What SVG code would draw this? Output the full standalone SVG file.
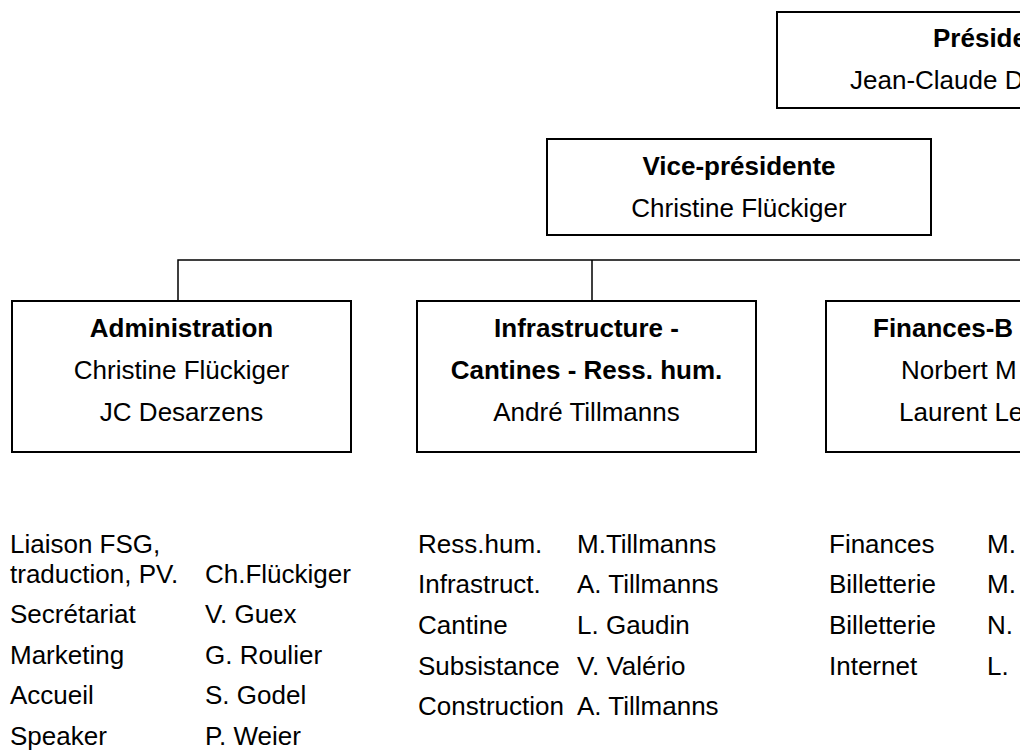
<svg xmlns="http://www.w3.org/2000/svg" width="1020" height="751" viewBox="0 0 1020 751">
<style>
text{font-family:"Liberation Sans",Arial,sans-serif;font-size:26px;fill:#000}
.b{font-weight:bold}
.c{text-anchor:middle}
.box{fill:#fff;stroke:#000;stroke-width:2}
.ln{fill:none;stroke:#000;stroke-width:1.5}
</style>
<rect width="1020" height="751" fill="#fff"/>
<g id="connectors">
<path class="ln" d="M178,301 V260 H1030 M592,260 V301"/>
</g>
<g id="president">
<rect class="box" x="777" y="12" width="430" height="96"/>
<text class="b" x="933" y="47">Préside</text>
<text x="850" y="89">Jean-Claude D</text>
</g>
<g id="vice-presidente">
<rect class="box" x="547" y="139" width="384" height="96"/>
<text class="b c" x="739" y="175">Vice-présidente</text>
<text class="c" x="739" y="217">Christine Flückiger</text>
</g>
<g id="administration">
<rect class="box" x="12" y="301" width="339" height="151"/>
<text class="b c" x="181.5" y="337">Administration</text>
<text class="c" x="181.5" y="379">Christine Flückiger</text>
<text class="c" x="181.5" y="421">JC Desarzens</text>
</g>
<g id="infrastructure">
<rect class="box" x="417" y="301" width="339" height="151"/>
<text class="b c" x="586.5" y="337">Infrastructure -</text>
<text class="b c" x="586.5" y="379">Cantines - Ress. hum.</text>
<text class="c" x="586.5" y="421">André Tillmanns</text>
</g>
<g id="finances">
<rect class="box" x="826" y="301" width="339" height="151"/>
<text class="b" x="873" y="337">Finances-B</text>
<text x="901" y="379">Norbert M</text>
<text x="899" y="421">Laurent Le</text>
</g>
<g id="list-administration">
<text x="10" y="553">Liaison FSG,</text>
<text x="10" y="583">traduction, PV.</text>
<text x="205" y="583">Ch.Flückiger</text>
<text x="10" y="623">Secrétariat</text>
<text x="205" y="623">V. Guex</text>
<text x="10" y="664">Marketing</text>
<text x="205" y="664">G. Roulier</text>
<text x="10" y="704">Accueil</text>
<text x="205" y="704">S. Godel</text>
<text x="10" y="745">Speaker</text>
<text x="205" y="745">P. Weier</text>
</g>
<g id="list-infrastructure">
<text x="418" y="553">Ress.hum.</text>
<text x="577" y="553">M.Tillmanns</text>
<text x="418" y="593">Infrastruct.</text>
<text x="577" y="593">A. Tillmanns</text>
<text x="418" y="634">Cantine</text>
<text x="577" y="634">L. Gaudin</text>
<text x="418" y="675">Subsistance</text>
<text x="577" y="675">V. Valério</text>
<text x="418" y="715">Construction</text>
<text x="577" y="715">A. Tillmanns</text>
</g>
<g id="list-finances">
<text x="829" y="553">Finances</text>
<text x="987" y="553">M.</text>
<text x="829" y="593">Billetterie</text>
<text x="987" y="593">M.</text>
<text x="829" y="634">Billetterie</text>
<text x="987" y="634">N.</text>
<text x="829" y="675">Internet</text>
<text x="987" y="675">L.</text>
</g>
</svg>
